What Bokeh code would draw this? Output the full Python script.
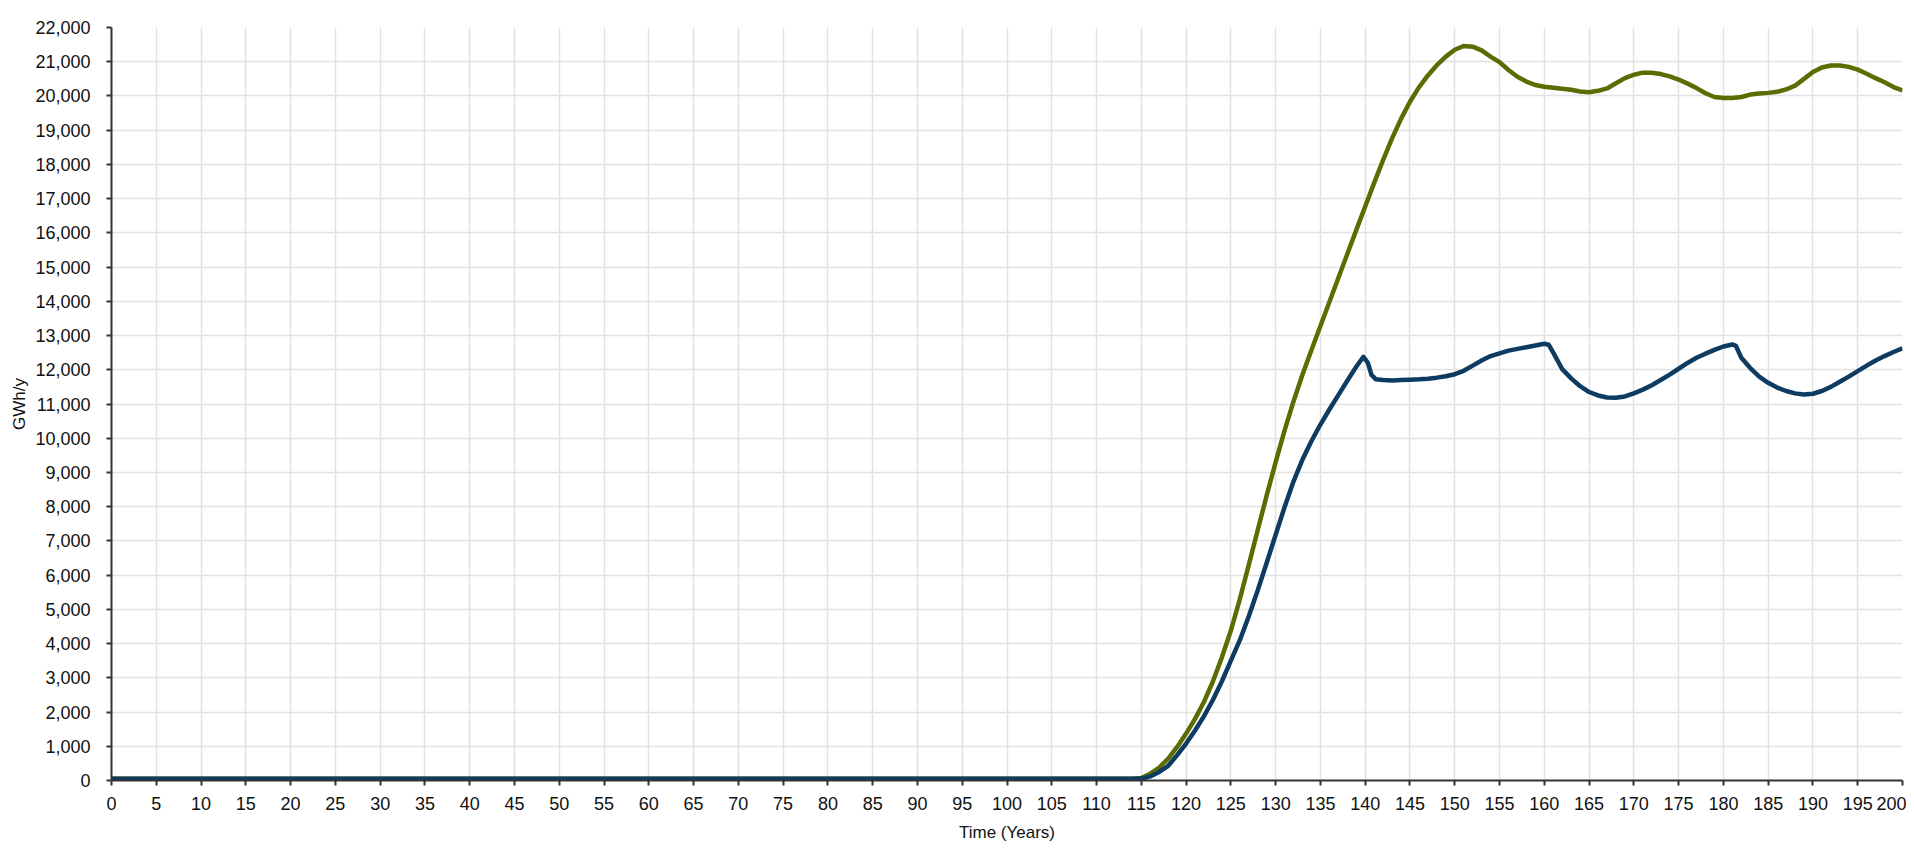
from bokeh.plotting import figure
from bokeh.models import FixedTicker, NumeralTickFormatter, Range1d
from bokeh.embed import file_html
from bokeh.resources import INLINE

# ---- data ----
green_t = [0, 114, 115, 116, 117, 118, 119, 120, 121, 122, 123, 124, 125, 126, 127, 128, 129, 130,
           131, 132, 133, 134, 135, 136, 137, 138, 139, 140, 141, 142, 143, 144, 145, 146, 147, 148,
           149, 150, 151, 152, 153, 154, 155, 156, 157, 158, 159, 160, 161, 162, 163, 164, 165, 166,
           167, 168, 169, 170, 171, 172, 173, 174, 175, 176, 177, 178, 179, 180, 181, 182, 183, 184,
           185, 186, 187, 188, 189, 190, 191, 192, 193, 194, 195, 196, 197, 198, 199, 200]
green_v = [50, 50, 70, 200, 380, 640, 980, 1370, 1800, 2300, 2900, 3600, 4380, 5300, 6300, 7320, 8330, 9300,
           10230, 11080, 11860, 12580, 13280, 13980, 14680, 15380, 16080, 16770, 17460, 18130, 18760, 19330,
           19830, 20250, 20600, 20900, 21150, 21350, 21460, 21440, 21330, 21150, 20990, 20760, 20560, 20420,
           20320, 20270, 20240, 20210, 20180, 20130, 20110, 20150, 20220, 20370, 20520, 20620, 20680, 20680,
           20640, 20570, 20480, 20360, 20230, 20080, 19970, 19940, 19940, 19970, 20040, 20070, 20090, 20120,
           20190, 20300, 20500, 20700, 20830, 20890, 20890, 20850, 20770, 20650, 20520, 20400, 20260, 20160]

blue_t = [0, 114, 115, 116, 117, 118, 119, 120, 121, 122, 123, 124, 125, 126, 127, 128, 129, 130,
          131, 132, 133, 134, 135, 136, 137, 138, 139, 139.8, 140.3, 140.7, 141.2, 142, 143, 144, 145,
          146, 147, 148, 149, 150, 151, 152, 153, 154, 155, 156, 157, 158, 159, 160, 160.5, 161, 162,
          163, 164, 165, 166, 167, 168, 169, 170, 171, 172, 173, 174, 175, 176, 177, 178, 179, 180, 181,
          181.4, 182, 183, 184, 185, 186, 187, 188, 189, 190, 191, 192, 193, 194, 195, 196, 197, 198, 199, 200]
blue_v = [50, 50, 50, 120, 250, 430, 740, 1080, 1460, 1880, 2360, 2900, 3500, 4100, 4800, 5560, 6360, 7180,
          7990, 8740, 9380, 9920, 10400, 10840, 11260, 11680, 12090, 12380, 12200, 11850, 11720, 11700,
          11690, 11700, 11710, 11720, 11740, 11770, 11810, 11870, 11970, 12120, 12270, 12400, 12480, 12560,
          12610, 12660, 12710, 12760, 12730, 12500, 12020, 11750, 11520, 11350, 11250, 11190, 11180, 11220,
          11310, 11420, 11550, 11700, 11860, 12030, 12200, 12350, 12470, 12580, 12680, 12740, 12700, 12350,
          12050, 11800, 11620, 11480, 11380, 11310, 11280, 11300, 11380, 11500, 11650, 11800, 11960, 12120,
          12270, 12400, 12520, 12630]

x_ticks = list(range(0, 201, 5))
y_ticks = list(range(0, 22001, 1000))

FONT = "Liberation Sans"

p = figure(width=1906, height=854, output_backend="svg", toolbar_location=None,
           x_range=Range1d(0, 200), y_range=Range1d(0, 22000),
           min_border_left=111, min_border_top=27, min_border_right=4, min_border_bottom=74)
p.outline_line_color = None
p.background_fill_color = "white"

p.line(green_t, green_v, line_color="#5a6c02", line_width=4.5, line_join="round")
p.line(blue_t, blue_v, line_color="#0e3b62", line_width=4.5, line_join="round")

for ax in (p.xaxis[0], p.yaxis[0]):
    ax.axis_line_color = "#333333"
    ax.axis_line_width = 2
    ax.major_tick_line_color = "#333333"
    ax.major_tick_line_width = 2
    ax.major_tick_in = 0
    ax.major_tick_out = 5
    ax.minor_tick_line_color = None
    ax.major_label_text_font = FONT
    ax.major_label_text_font_size = "18px"
    ax.major_label_text_color = "#111111"
    ax.axis_label_text_font = FONT
    ax.axis_label_text_font_size = "17px"
    ax.axis_label_text_font_style = "normal"
    ax.axis_label_text_color = "#111111"

p.xaxis.ticker = FixedTicker(ticks=x_ticks)
p.yaxis.ticker = FixedTicker(ticks=y_ticks)
p.yaxis.formatter = NumeralTickFormatter(format="0,0")
p.xaxis.axis_label = "Time (Years)"
p.yaxis.axis_label = "GWh/y"
p.xaxis.major_label_standoff = 11
p.yaxis.major_label_standoff = 16
p.xaxis.axis_label_standoff = 10
p.yaxis.axis_label_standoff = 3

p.xgrid.grid_line_color = "#e2e2e2"
p.ygrid.grid_line_color = "#e2e2e2"
p.xgrid.grid_line_width = 1.5
p.ygrid.grid_line_width = 1.5

open("out.html", "w").write(file_html(p, INLINE))
